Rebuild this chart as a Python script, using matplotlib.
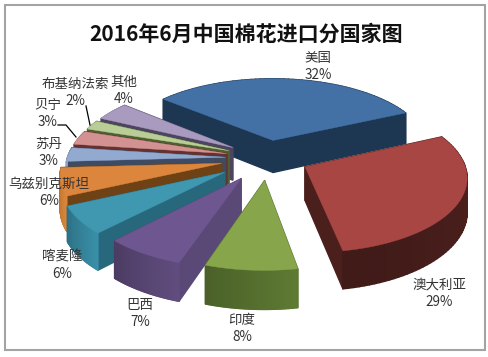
import numpy as np
import matplotlib
matplotlib.use("Agg")
import matplotlib.pyplot as plt
from matplotlib.collections import PolyCollection
from matplotlib.colors import to_rgb
from matplotlib.patches import Rectangle

plt.rcParams['font.family'] = ['Noto Sans CJK SC', 'DejaVu Sans']

# -----------------------------
# data
# -----------------------------
countries = ["美国", "澳大利亚", "印度", "巴西", "喀麦隆", "乌兹别克斯坦", "苏丹", "贝宁", "布基纳法索", "其他"]
shares = [32, 29, 8, 7, 6, 6, 3, 3, 2, 4]
title = "2016年6月中国棉花进口分国家图"

# -----------------------------
# style
# -----------------------------
top_colors = ["#4371a5", "#a84644", "#87a64c", "#6e5790", "#3f97b0", "#dc853d", "#92a9d0", "#d29291", "#b9cd96", "#a99bc0"]
side_colors = ["#1d3652", "#4a1f1c", "#56702f", "#5a4876", "#27687c", "#6e4214", "#3f4a63", "#66302f", "#4f6030", "#4d4560"]
arc_colors = ["#1d3652", "#4a1f1c", "#56702f", "#584673", "#348299", "#c67a34", "#7f93b5", "#b57f7e", "#a0b282", "#9286a6"]
explode = [0.25, 0.26, 0.30, 0.32, 0.33, 0.30, 0.27, 0.27, 0.27, 0.27]
draw_order = [0, 9, 8, 7, 6, 5, 4, 3, 2, 1]
label_xy = [(318, 58), (439, 285), (242, 320), (140, 305), (62, 257),
            (49, 184), (49, 144), (48, 105), (75, 84), (124, 82)]

start_deg = -50.0
cx, cy = 268, 158
rx, ry = 158, 73
persp = 0.12
depth = 33


def project(X, Y, drop=0.0):
    w = 1 + persp * Y
    return np.column_stack([cx + rx * X / w, cy - ry * Y / w + drop / w])


fig = plt.figure(figsize=(4.89, 3.57), dpi=100)
ax = fig.add_axes([0, 0, 1, 1])
ax.set_xlim(0, 489)
ax.set_ylim(357, 0)
ax.axis("off")

ax.add_patch(Rectangle((4.5, 4.5), 480, 345, fc="white", ec="#a3a3a3", lw=1.5, zorder=0))

edges = np.cumsum([0] + shares) / sum(shares) * 360 + start_deg

for z, i in enumerate(draw_order):
    a0, a1 = np.radians(edges[i]), np.radians(edges[i + 1])
    mid = (a0 + a1) / 2
    ox, oy = explode[i] * np.sin(mid), explode[i] * np.cos(mid)
    t = np.linspace(a0, a1, 60)
    X = np.r_[ox, ox + np.sin(t)]
    Y = np.r_[oy, oy + np.cos(t)]
    top = project(X, Y)
    low = project(X, Y, depth)

    # side walls, far ones first so the near ones paint over them
    radial_col = np.array(to_rgb(side_colors[i]))
    arc_col = np.array(to_rgb(arc_colors[i]))
    n = len(top)
    quads, cols = [], []
    for k in range(n):
        j = (k + 1) % n
        quads.append([top[k], top[j], low[j], low[k]])
        if k == 0 or k == n - 1:
            cols.append(radial_col)
        else:
            cols.append(np.clip(arc_col * (1.1 - 0.25 * k / n), 0, 1))
    order = np.argsort([np.mean(q, axis=0)[1] for q in quads])
    ax.add_collection(PolyCollection([quads[o] for o in order],
                                     facecolors=[cols[o] for o in order],
                                     edgecolors=[cols[o] for o in order],
                                     linewidths=1.0, zorder=2 + z * 0.1))
    ax.fill(top[:, 0], top[:, 1], color=top_colors[i], lw=0.3, zorder=2.05 + z * 0.1)

ax.text(246.5, 34, title, ha="center", va="center", fontsize=15.1, fontweight="bold",
        color="#111111", zorder=5)

for name, val, (x, y) in zip(countries, shares, label_xy):
    ax.text(x, y, name, ha="center", va="center", fontsize=9.7, color="#333333", zorder=5)
    ax.text(x, y + 17, f"{val}%", ha="center", va="center", fontsize=9.7, color="#333333", zorder=5)

# leader lines
ax.plot([58, 66, 76], [125, 125, 137], color="black", lw=0.9, zorder=4)
ax.plot([86, 90], [106, 125], color="black", lw=0.9, zorder=4)

fig.savefig("out.png", dpi=100)
